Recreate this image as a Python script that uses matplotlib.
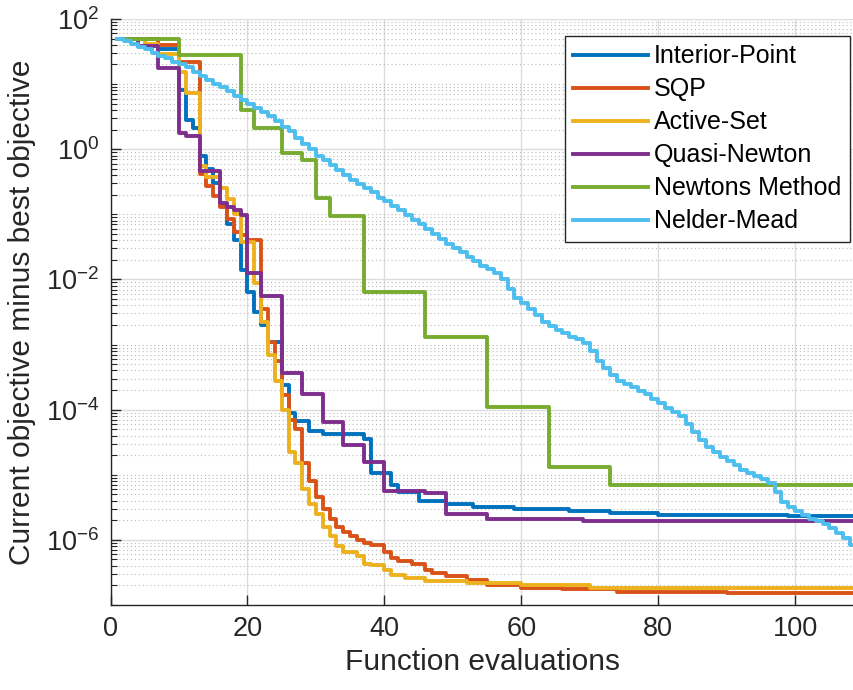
import numpy as np
import matplotlib
matplotlib.use('Agg')
import matplotlib.pyplot as plt
import matplotlib.ticker as ticker

plt.rcParams['font.family'] = ['Liberation Sans', 'DejaVu Sans']
plt.rcParams['mathtext.fontset'] = 'custom'
plt.rcParams['mathtext.rm'] = 'Liberation Sans'
plt.rcParams['mathtext.it'] = 'Liberation Sans:italic'
plt.rcParams['mathtext.bf'] = 'Liberation Sans:bold'

# evaluation at which each new value starts, and the value (current - best objective)
ip_x = [1, 7, 10, 11, 12, 13, 14, 15, 16, 17, 18, 19, 20, 21, 22, 23, 25, 26, 27, 29,
        31, 37, 38, 41, 42, 45, 49, 53, 59, 67, 73, 80, 99]
ip_y = [50, 35, 8, 2.8, 2.1, 0.8, 0.5, 0.3, 0.14, 0.07, 0.04, 0.014, 0.0063, 0.0032, 0.002,
        0.0011, 2.4e-4, 9e-5, 6.6e-5, 4.7e-5, 4.3e-5, 3.6e-5, 1.07e-5, 7e-6, 5.4e-6, 4.0e-6,
        3.6e-6, 3.2e-6, 2.95e-6, 2.8e-6, 2.55e-6, 2.45e-6, 2.35e-6]

sqp_x = [1, 7, 10, 13, 14, 15, 16, 17, 18, 19, 20, 22, 23, 24, 25, 26, 27, 28, 29, 30,
         31, 32, 33, 34, 35, 36, 37, 38, 40, 41, 42, 44, 46, 47, 49, 52, 55, 60, 66, 74, 90]
sqp_y = [50, 40, 22, 0.42, 0.27, 0.19, 0.13, 0.085, 0.054, 0.048, 0.041, 0.0035, 0.0011,
         5.6e-4, 1.7e-4, 7e-5, 5e-5, 1.5e-5, 8e-6, 4.5e-6, 3.0e-6, 2.1e-6, 1.6e-6, 1.3e-6,
         1.15e-6, 1.0e-6, 9e-7, 8.3e-7, 6.5e-7, 5.2e-7, 4.7e-7, 4.2e-7, 3.4e-7, 3.1e-7,
         2.8e-7, 2.4e-7, 2.0e-7, 1.85e-7, 1.75e-7, 1.6e-7, 1.55e-7]

as_x = [1, 5, 7, 10, 11, 13, 14, 16, 17, 18, 19, 21, 22, 23, 24, 25, 26, 27, 28, 29,
        30, 31, 32, 33, 34, 36, 37, 38, 40, 41, 43, 46, 52, 60, 70]
as_y = [50, 41, 29, 15.5, 7.3, 0.55, 0.37, 0.25, 0.17, 0.1, 0.037, 0.0087, 0.0022, 7e-4,
        2.8e-4, 1.0e-4, 2.2e-5, 1.5e-5, 6e-6, 3.6e-6, 2.5e-6, 1.6e-6, 1.15e-6, 8e-7, 6.5e-7,
        5.6e-7, 4.3e-7, 4.1e-7, 3.5e-7, 2.9e-7, 2.6e-7, 2.35e-7, 2.2e-7, 2.05e-7, 1.85e-7]

qn_x = [1, 4, 7, 10, 11, 13, 16, 17, 18, 19, 20, 22, 25, 28, 31, 34, 37, 40, 46, 49, 55, 69]
qn_y = [50, 38, 17.5, 1.77, 1.6, 0.47, 0.15, 0.13, 0.117, 0.098, 0.0126, 0.0055, 3.7e-4,
        1.75e-4, 6.5e-5, 2.9e-5, 1.55e-5, 5.7e-6, 5.2e-6, 2.5e-6, 2.1e-6, 1.95e-6]

nt_x = [1, 10, 19, 21, 25, 28, 30, 32, 37, 46, 55, 64, 73]
nt_y = [50, 28, 4.0, 2.1, 0.88, 0.68, 0.18, 0.095, 0.0063, 0.0013, 1.1e-4, 1.3e-5, 7e-6]

# Nelder-Mead improves a little at almost every evaluation (evaluations 1..109)
nm_y = [49, 46, 42, 37, 34, 30, 27, 25, 22, 20, 18, 15.5, 13.5, 11.7, 10.2, 8.9, 7.8, 6.6,
        5.6, 4.9, 4.3, 3.7, 3.2, 2.7, 2.2, 1.9, 1.5, 1.2, 1.0, 0.79, 0.69, 0.58, 0.48, 0.40,
        0.34, 0.29, 0.25, 0.22, 0.18, 0.16, 0.135, 0.115, 0.098, 0.083, 0.071, 0.060, 0.050,
        0.042, 0.035, 0.030, 0.026, 0.022, 0.019, 0.016, 0.0145, 0.0126, 0.010, 0.0072,
        0.0052, 0.0044, 0.0035, 0.0028, 0.0022, 0.0019, 0.00166, 0.00148, 0.00132, 0.0012,
        0.00107, 7.9e-4, 5.5e-4, 4.4e-4, 3.4e-4, 2.8e-4, 2.45e-4, 2.2e-4, 1.95e-4, 1.74e-4,
        1.48e-4, 1.26e-4, 1.07e-4, 9.1e-5, 7.9e-5, 6.0e-5, 4.5e-5, 3.4e-5, 2.7e-5, 2.2e-5,
        1.9e-5, 1.6e-5, 1.4e-5, 1.2e-5, 1.07e-5, 9.5e-6, 8.5e-6, 7.6e-6, 5.4e-6, 3.8e-6,
        3.2e-6, 2.75e-6, 2.4e-6, 2.1e-6, 1.95e-6, 1.75e-6, 1.5e-6, 1.26e-6, 1.07e-6, 8.3e-7,
        7.1e-7]
nm_x = list(range(1, len(nm_y) + 1))

names = ['Interior-Point', 'SQP', 'Active-Set', 'Quasi-Newton', 'Newtons Method', 'Nelder-Mead']
colors = ['#0072BD', '#D95319', '#EDB120', '#7E2F8E', '#77AC30', '#4DBEEE']
series = [(ip_x, ip_y), (sqp_x, sqp_y), (as_x, as_y), (qn_x, qn_y), (nt_x, nt_y), (nm_x, nm_y)]

x_end = 108.6

fig = plt.figure(figsize=(8.54, 6.90), dpi=100)
ax = fig.add_axes([0.1294, 0.1232, 0.8706, 0.8493])

for (xs, ys), name, c in zip(series, names, colors):
    xs = list(xs) + [x_end + 1]
    ys = list(ys) + [ys[-1]]
    ax.plot(xs, ys, drawstyle='steps-post', color=c, lw=2.8, label=name)

ax.set_yscale('log')
ax.set_xlim(0, x_end)
ax.set_ylim(1e-7, 1e2)
ax.set_xticks([0, 20, 40, 60, 80, 100])
ax.yaxis.set_major_locator(ticker.FixedLocator([1e-6, 1e-4, 1e-2, 1e0, 1e2]))
ax.yaxis.set_major_formatter(ticker.LogFormatterSciNotation())
ax.yaxis.set_minor_locator(ticker.LogLocator(base=10, subs=np.arange(1, 10), numticks=100))
ax.yaxis.set_minor_formatter(ticker.NullFormatter())

ax.grid(True, which='major', color='#dcdcdc', lw=1.0, ls='-')
ax.grid(True, which='minor', axis='y', color='#b8b8b8', lw=0.8, ls=(0, (1, 2.5)))
ax.set_axisbelow(True)

for s in ['top', 'right']:
    ax.spines[s].set_visible(False)
for s in ['left', 'bottom']:
    ax.spines[s].set_color('#262626')
    ax.spines[s].set_linewidth(1.0)

ax.tick_params(which='major', direction='in', length=7, width=1.0, colors='#262626',
               labelsize=19.5, pad=8)
ax.tick_params(which='minor', direction='in', length=4, width=0.8, colors='#262626')
ax.tick_params(axis='x', which='minor', bottom=False)

ax.set_xlabel('Function evaluations', fontsize=21.5, color='#262626', labelpad=4)
ax.set_ylabel('Current objective minus best objective', fontsize=21.5, color='#262626',
              labelpad=7)

leg = ax.legend(loc='upper right', bbox_to_anchor=(0.9946, 0.971), borderaxespad=0,
                fontsize=18, frameon=True, fancybox=False, framealpha=1,
                edgecolor='#262626', handlelength=2.98, handletextpad=0.25,
                labelspacing=0.36, borderpad=0.34)
leg.get_frame().set_linewidth(1.0)

fig.savefig('out.png', dpi=100)
